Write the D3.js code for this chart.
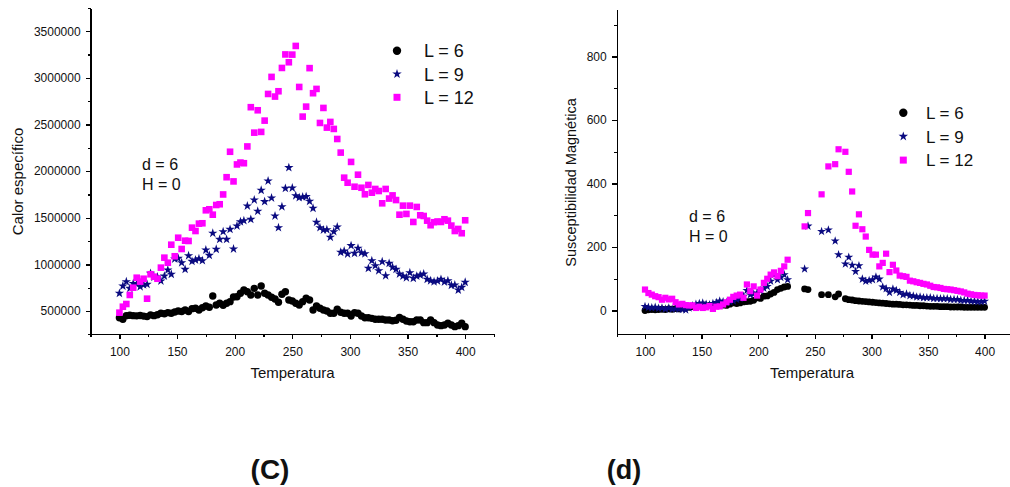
<!DOCTYPE html>
<html>
  <head>
    <meta charset="utf-8" />
    <script src="https://d3js.org/d3.v7.min.js"></script>
    <style>
      body { margin: 0; background: #ffffff; }
      text { font-family: "Liberation Sans", Arial, sans-serif; fill: #111111; }
      .axis path, .axis line { stroke: #000000; stroke-width: 1.3; shape-rendering: crispEdges; }
      .axis text { font-size: 12px; fill: #111111; font-family: "Liberation Sans", Arial, sans-serif; }
    </style>
  </head>
  <body>
    <svg width="1010" height="487"></svg>

    <script type="text/javascript">

    // ---- panel (C): calor especifico ----
    var tempsC = [100,103,106,109,112,115,118,121,124,127,130,133,136,139,142,145,148,151,154,157,
      160,163,166,169,172,175,178,181,184,187,190,193,196,199,202,205,208,211,214,217,
      220,223,226,229,232,235,238,241,244,247,250,253,256,259,262,265,268,271,274,277,
      280,283,286,289,292,295,298,301,304,307,310,313,316,319,322,325,328,331,334,337,
      340,343,346,349,352,355,358,361,364,367,370,373,376,379,382,385,388,391,394,397,400];

    var calorL6 = [428000,411000,450000,455000,450000,448000,452000,445000,440000,458000,450000,460000,475000,470000,482000,475000,490000,500000,495000,511000,
      495000,525000,529000,511000,535000,554000,540000,661000,564000,583000,561000,583000,600000,650000,653000,690000,725000,707000,672000,743000,
      672000,768000,690000,672000,647000,629000,593000,679000,707000,618000,607000,583000,564000,600000,636000,618000,511000,554000,529000,511000,
      500000,475000,475000,518000,486000,475000,475000,446000,482000,475000,446000,428000,428000,421000,411000,411000,411000,403000,403000,396000,
      400000,432000,411000,393000,385000,385000,403000,403000,375000,375000,403000,375000,350000,343000,350000,368000,350000,332000,343000,368000,332000];

    var calorL9 = [690000,768000,814000,743000,795000,790000,761000,780000,786000,904000,862000,865000,822000,875000,940000,894000,1058000,1065000,1018000,947000,
      1093000,1033000,1047000,1061000,1040000,1154000,1097000,1334000,1162000,1269000,1351000,1269000,1376000,1165000,1412000,1458000,1469000,1627000,1483000,1691000,
      1570000,1795000,1673000,1895000,1712000,1519000,1394000,1619000,1816000,2038000,1820000,1737000,1716000,1723000,1727000,1677000,1602000,1452000,1394000,1369000,
      1372000,1291000,1351000,1401000,1130000,1144000,1112000,1201000,1119000,1173000,1125000,1115000,958000,1040000,986000,932000,1029000,879000,1011000,969000,
      947000,897000,875000,857000,911000,851000,875000,886000,897000,840000,825000,814000,822000,840000,811000,825000,776000,779000,725000,754000,808000];

    var calorL12 = [482000,546000,575000,672000,750000,857000,815000,846000,632000,894000,868000,846000,965000,1072000,1018000,1211000,1087000,1286000,1165000,1254000,
      1251000,1394000,1358000,1437000,1441000,1580000,1591000,1533000,1637000,1645000,1750000,1935000,2208000,1890000,2072000,2092000,2085000,2265000,2686000,2413000,
      2653000,2421000,2542000,2828000,3011000,2800000,2857000,3107000,3252000,3168000,3250000,3343000,2903000,2585000,2692000,3105000,2836000,2882000,2517000,2678000,
      2467000,2528000,2453000,2345000,2199000,1930000,1876000,2099000,1833000,1962000,1822000,1752000,1852000,1769000,1809000,1787000,1655000,1809000,1706000,1740000,
      1690000,1533000,1630000,1541000,1630000,1455000,1616000,1527000,1519000,1469000,1420000,1452000,1460000,1455000,1484000,1469000,1416000,1358000,1380000,1334000,1473000];

    // ---- panel (d): susceptibilidad magnetica ----
    var tempsD = [100,103,106,109,112,115,118,121,124,127,130,133,136,139,142,145,148,151,154,157,
      160,163,166,169,172,175,178,181,184,187,190,193,196,199,202,205,208,211,214,217,
      220,223,226,241,244,256,262,268,271,277,280,283,286,289,292,295,298,301,304,307,
      310,313,316,319,322,325,328,331,334,337,340,343,346,349,352,355,358,361,364,367,
      370,373,376,379,382,385,388,391,394,397,400];

    var suscL6 = [0,2,3,2,3,4,3,5,4,6,5,8,10,10,12,14,15,17,14,16,
      15,18,20,17,16,20,24,22,24,27,28,29,32,40,38,45,46,52,57,66,
      70,74,76,68,66,50,50,43,52,37,34,33,31,30,29,28,27,26,25,24,
      23,22,21,20,20,19,18,18,17,16,16,15,15,14,13,13,13,12,12,12,
      11,11,11,11,10,10,10,10,10,10,10];

    var suscL9 = [13,10,9,10,7,8,5,8,4,6,4,3,2,8,15,20,22,24,20,18,
      22,25,30,28,25,28,30,35,38,45,63,50,52,55,62,70,76,92,113,97,
      104,113,97,131,266,249,254,219,176,147,168,143,123,141,99,92,95,97,106,99,
      74,69,57,68,63,57,50,52,47,46,43,43,40,40,40,38,38,37,37,37,
      35,35,35,32,32,32,29,29,28,28,29];

    var suscL12 = [66,55,50,45,42,34,40,35,37,26,19,21,17,16,16,8,12,8,10,14,
      5,12,13,19,26,34,43,47,50,40,82,61,76,47,66,87,100,113,120,108,
      125,139,160,265,307,366,454,461,508,500,437,375,267,303,256,233,191,176,176,139,
      150,179,121,144,126,110,108,106,94,92,89,87,84,82,78,74,73,71,68,67,
      66,64,62,60,57,53,51,49,48,47,47];

    // tick values
    var cTicksX = [100,150,200,250,300,350,400];
    var cMinorX = [75,125,175,225,275,325,375,425];
    var cTicksY = [500000,1000000,1500000,2000000,2500000,3000000,3500000];
    var cMinorY = [250000,750000,1250000,1750000,2250000,2750000,3250000,3750000];
    var dTicksY = [0,200,400,600,800];
    var dMinorY = [100,300,500,700,900];

    var legendLabels = ["L = 6", "L = 9", "L = 12"];
    var seriesColors = ["#000000", "#0a0a80", "#ff00ff"];

    var svg = d3.select("svg");
    svg.append("rect").attr("width", 1010).attr("height", 487).attr("fill", "#ffffff");

    function drawMarkers(g, kind, xs, ys, x, y, color, sz) {
      var pts = xs.map(function(t, i) { return { t: t, v: ys[i] }; });
      if (kind == 0) {
        g.selectAll(null).data(pts).enter().append("circle")
          .attr("cx", function(d) { return x(d.t); })
          .attr("cy", function(d) { return y(d.v); })
          .attr("r", sz.r)
          .attr("fill", color);
      } else if (kind == 1) {
        var star = d3.symbol().type(d3.symbolStar).size(sz.star);
        g.selectAll(null).data(pts).enter().append("path")
          .attr("d", star)
          .attr("transform", function(d) { return "translate(" + x(d.t) + "," + y(d.v) + ")"; })
          .attr("fill", color);
      } else {
        g.selectAll(null).data(pts).enter().append("rect")
          .attr("x", function(d) { return x(d.t) - sz.sq / 2; })
          .attr("y", function(d) { return y(d.v) - sz.sq / 2; })
          .attr("width", sz.sq)
          .attr("height", sz.sq)
          .attr("fill", color);
      }
    }

    function drawPanel(p) {
      var x = p.x, y = p.y;
      var g = svg.append("g");
      var x0 = x.range()[0], yb = y.range()[0];

      // minor ticks first, then major with labels
      g.append("g").attr("class", "axis").attr("transform", "translate(0," + yb + ")")
        .call(d3.axisBottom(x).tickValues(cMinorX).tickSize(3).tickSizeOuter(0).tickFormat(""));
      g.append("g").attr("class", "axis").attr("transform", "translate(0," + yb + ")")
        .call(d3.axisBottom(x).tickValues(cTicksX).tickSize(5).tickSizeOuter(0).tickPadding(8).tickFormat(d3.format("d")));
      g.append("g").attr("class", "axis").attr("transform", "translate(" + x0 + ",0)")
        .call(d3.axisLeft(y).tickValues(p.minorY).tickSize(3).tickSizeOuter(0).tickFormat(""));
      g.append("g").attr("class", "axis").attr("transform", "translate(" + x0 + ",0)")
        .call(d3.axisLeft(y).tickValues(p.ticksY).tickSize(5).tickSizeOuter(0).tickPadding(5).tickFormat(d3.format("d")));

      // data: L=6 first, then L=9, then L=12 on top
      var dots = g.append("g");
      p.series.forEach(function(s, i) {
        drawMarkers(dots, i, p.temps, s, x, y, seriesColors[i], p.sz);
      });

      // axis titles
      g.append("text")
        .attr("transform", "translate(" + p.ylab[0] + "," + p.ylab[1] + ") rotate(-90)")
        .attr("text-anchor", "middle")
        .style("font-size", p.labSize + "px")
        .text(p.ytitle);
      g.append("text")
        .attr("x", p.xlab[0]).attr("y", p.xlab[1])
        .attr("text-anchor", "middle")
        .style("font-size", "15px")
        .text("Temperatura");

      // d = 6, H = 0
      g.append("text").attr("x", p.note[0]).attr("y", p.note[1])
        .style("font-size", "16px").text("d = 6");
      g.append("text").attr("x", p.note[0]).attr("y", p.note[1] + 20)
        .style("font-size", "16px").text("H = 0");

      // legend
      var leg = g.append("g");
      legendLabels.forEach(function(lab, i) {
        var cy = p.leg[1] + i * p.leg[3];
        if (i == 0) {
          leg.append("circle").attr("cx", p.leg[0]).attr("cy", cy).attr("r", 4.2).attr("fill", seriesColors[0]);
        } else if (i == 1) {
          leg.append("path").attr("d", d3.symbol().type(d3.symbolStar).size(28))
            .attr("transform", "translate(" + p.leg[0] + "," + cy + ")").attr("fill", seriesColors[1]);
        } else {
          leg.append("rect").attr("x", p.leg[0] - 3.5).attr("y", cy - 3.5)
            .attr("width", 7).attr("height", 7).attr("fill", seriesColors[2]);
        }
        leg.append("text").attr("x", p.leg[2]).attr("y", cy + p.legFont * 0.37)
          .style("font-size", p.legFont + "px").text(lab);
      });

      // panel letter
      g.append("text").attr("x", p.letter[0]).attr("y", 479)
        .attr("text-anchor", "middle")
        .style("font-size", p.letter[1] + "px").style("font-weight", "bold")
        .text(p.letter[2]);
    }

    drawPanel({
      x: d3.scaleLinear().domain([75, 425]).range([90.6, 494]),
      y: d3.scaleLinear().domain([250000, 3750000]).range([334.3, 8]),
      ticksY: cTicksY, minorY: cMinorY,
      temps: tempsC, series: [calorL6, calorL9, calorL12],
      sz: { r: 3.7, star: 27, sq: 6.6 },
      ytitle: "Calor específico", ylab: [23, 181.5], labSize: 15,
      xlab: [292.5, 378],
      note: [142, 170],
      leg: [397, 50.7, 424, 23.3], legFont: 18,
      letter: [270, 28, "(C)"]
    });

    drawPanel({
      x: d3.scaleLinear().domain([75, 425]).range([616.7, 1012.9]),
      y: d3.scaleLinear().domain([-75, 950]).range([334.3, 9]),
      ticksY: dTicksY, minorY: dMinorY,
      temps: tempsD, series: [suscL6, suscL9, suscL12],
      sz: { r: 3.4, star: 25, sq: 6.2 },
      ytitle: "Susceptibilidad Magnética", ylab: [575.5, 182.5], labSize: 14.5,
      xlab: [812, 378],
      note: [689, 222.3],
      leg: [903.3, 112.7, 926, 23.7], legFont: 17,
      letter: [624, 27, "(d)"]
    });

    </script>
  </body>
</html>
